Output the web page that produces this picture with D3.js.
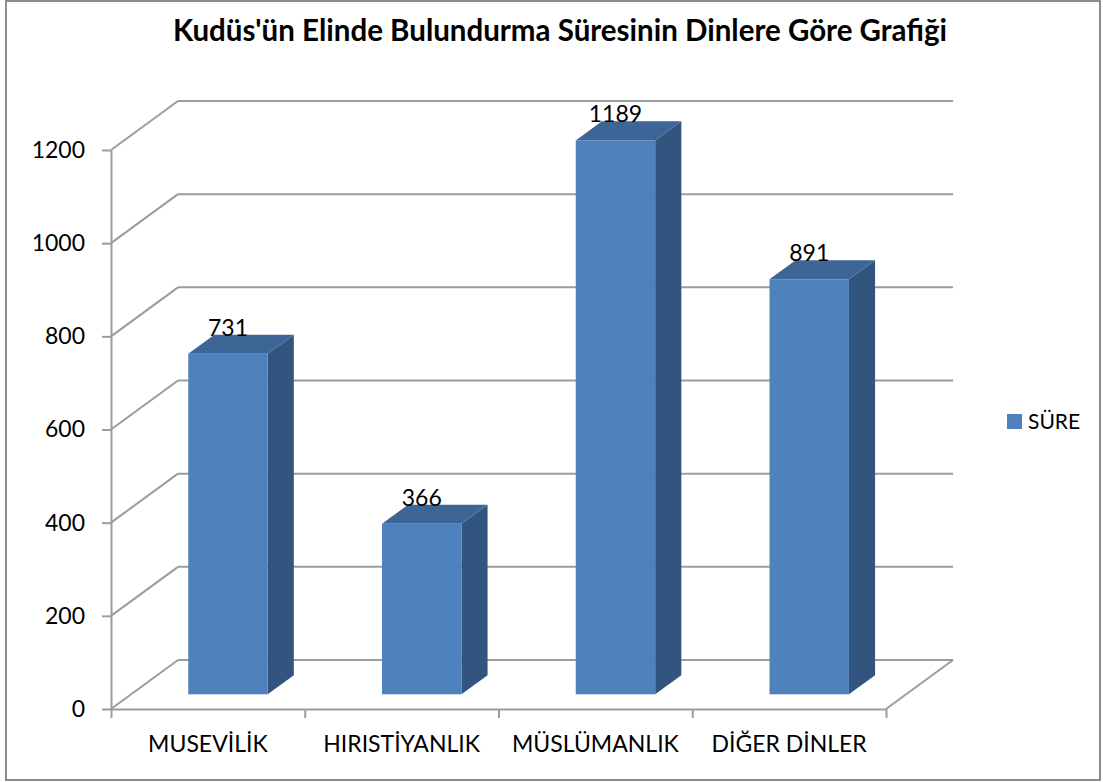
<!DOCTYPE html>
<html>
<head>
<meta charset="utf-8">
<script src="https://cdn.jsdelivr.net/npm/d3@7"></script>
<style>
  body { margin: 0; background: #fff; }
  svg { display: block; font-family: Lato, "Open Sans", sans-serif; }
</style>
</head>
<body>
<svg id="chart"></svg>
<script>
const categories = ['MUSEVİLİK', 'HIRISTİYANLIK', 'MÜSLÜMANLIK', 'DİĞER DİNLER'];
const values = [731, 366, 1189, 891];
const yTicks = [0, 200, 400, 600, 800, 1000, 1200];
const seriesName = 'SÜRE';
const title = "Kudüs'ün Elinde Bulundurma Süresinin Dinlere Göre Grafiği";

const width = 1103;
const height = 782;

// front plane of the plot and the depth offset of the back wall
const plotLeft = 111;
const plotRight = 886;
const plotBottom = 709;
const plotTop = 150;
const depthX = 67;
const depthY = -49;
// bars sit between these fractions of the depth
const barFront = 0.3;
const barBack = 0.69;

const gridColor = '#9c9c9c';

const svg = d3.select('#chart').attr('width', width).attr('height', height);

// outer frame
svg.append('rect')
  .attr('x', 6).attr('y', 1)
  .attr('width', 1094).attr('height', 779)
  .attr('fill', '#fff')
  .attr('stroke', '#8c8c8c')
  .attr('stroke-width', 2);

svg.append('text')
  .attr('x', 560)
  .attr('y', 41)
  .attr('text-anchor', 'middle')
  .style('font-weight', 'bold')
  .style('font-size', '29.5px')
  .text(title);

const x = d3.scaleBand()
  .domain(categories)
  .range([plotLeft, plotRight])
  .paddingInner(0.59)
  .paddingOuter(0.295);

const y = d3.scaleLinear().domain([0, 1200]).range([plotBottom, plotTop]);

const edges = d3.scaleLinear().domain([0, categories.length]).range([plotLeft, plotRight]);

// walls: back gridlines + left wall diagonals
const grid = svg.append('g').attr('stroke', gridColor).attr('stroke-width', 2).attr('fill', 'none');
grid.selectAll('.back')
  .data(yTicks)
  .join('line')
    .attr('class', 'back')
    .attr('x1', plotLeft + depthX).attr('x2', plotRight + depthX)
    .attr('y1', d => y(d) + depthY).attr('y2', d => y(d) + depthY);
grid.selectAll('.diag')
  .data(yTicks)
  .join('line')
    .attr('class', 'diag')
    .attr('x1', plotLeft).attr('x2', plotLeft + depthX)
    .attr('y1', d => y(d)).attr('y2', d => y(d) + depthY);
// right edge of the floor
grid.append('line')
  .attr('x1', plotRight).attr('y1', y(0))
  .attr('x2', plotRight + depthX).attr('y2', y(0) + depthY);

// y axis
const yAxis = svg.append('g')
  .attr('transform', `translate(${plotLeft},0)`)
  .call(d3.axisLeft(y).tickValues(yTicks).tickFormat(d3.format('d'))
    .tickSize(9).tickSizeOuter(0).tickPadding(17));
yAxis.selectAll('line, path').attr('stroke', gridColor).attr('stroke-width', 2);
yAxis.selectAll('text').style('font-size', '23px').attr('fill', '#000').style('font-family', 'Lato');

// x axis: ticks on category edges, labels centred
const xTickAxis = svg.append('g')
  .attr('transform', `translate(0,${plotBottom})`)
  .call(d3.axisBottom(edges).ticks(4).tickSize(9).tickSizeOuter(0).tickFormat(''));
xTickAxis.selectAll('line, path').attr('stroke', gridColor).attr('stroke-width', 2);

const xLabelAxis = svg.append('g')
  .attr('transform', `translate(0,${plotBottom})`)
  .call(d3.axisBottom(x).tickSize(0).tickPadding(27));
xLabelAxis.select('.domain').remove();
xLabelAxis.selectAll('text').style('font-size', '23px').attr('fill', '#000').style('font-family', 'Lato');

// 3D bars
const bars = svg.append('g')
  .selectAll('g')
  .data(categories.map((c, i) => ({ category: c, value: values[i] })))
  .join('g');

const fx = d => x(d.category) + barFront * depthX;
const bx = d => x(d.category) + barBack * depthX;
const fy0 = barFront * depthY;
const by0 = barBack * depthY;
const bw = x.bandwidth();

// side face
bars.append('path')
  .attr('fill', '#31557f')
  .attr('d', d => {
    const xa = fx(d) + bw, xb = bx(d) + bw;
    return `M${xa},${y(d.value) + fy0}L${xb},${y(d.value) + by0}L${xb},${y(0) + by0}L${xa},${y(0) + fy0}Z`;
  });

// top face
bars.append('path')
  .attr('fill', '#3d6696')
  .attr('d', d => {
    const yt = y(d.value);
    return `M${fx(d)},${yt + fy0}L${bx(d)},${yt + by0}L${bx(d) + bw},${yt + by0}L${fx(d) + bw},${yt + fy0}Z`;
  });

// front face
bars.append('rect')
  .attr('fill', '#4f81bd')
  .attr('x', fx)
  .attr('y', d => y(d.value) + fy0)
  .attr('width', bw)
  .attr('height', d => y(0) - y(d.value));

// value labels
bars.append('text')
  .attr('x', d => fx(d) + bw / 2)
  .attr('y', d => y(d.value) + by0 + 1)
  .attr('text-anchor', 'middle')
  .style('font-size', '23px')
  .text(d => d.value);

// legend
const legend = svg.append('g').attr('transform', 'translate(1007,414)');
legend.append('rect').attr('width', 15).attr('height', 15).attr('fill', '#4f81bd');
legend.append('text')
  .attr('x', 21).attr('y', 15)
  .style('font-size', '21px')
  .text(seriesName);
</script>
</body>
</html>
